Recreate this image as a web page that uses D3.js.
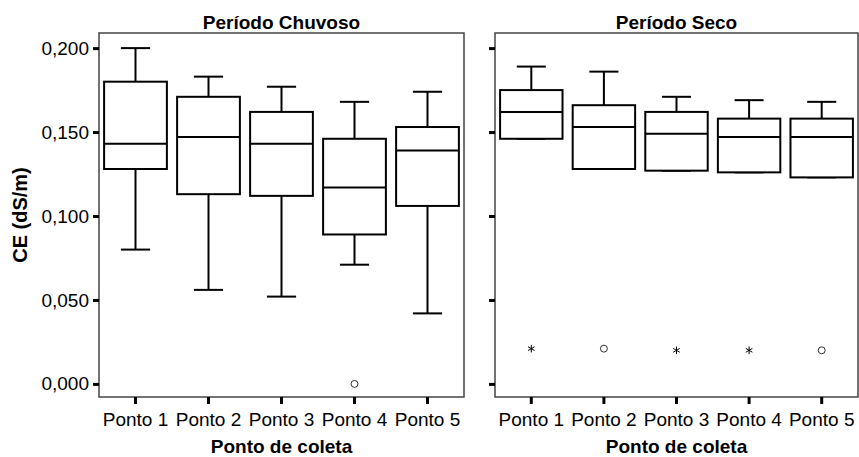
<!DOCTYPE html>
<html>
<head>
<meta charset="utf-8">
<script src="https://cdn.jsdelivr.net/npm/d3@7"></script>
<style>
  body { margin: 0; background: #fff; }
  text { font-family: "Liberation Sans", Arial, sans-serif; }
</style>
</head>
<body>
<svg id="chart" width="859" height="457"></svg>
<script>
// categories and box statistics
const pontos = ["Ponto 1", "Ponto 2", "Ponto 3", "Ponto 4", "Ponto 5"];
const yTicks = [0, 0.05, 0.10, 0.15, 0.20];

const chuvosoMin = [0.080, 0.056, 0.052, 0.071, 0.042];
const chuvosoQ1  = [0.128, 0.113, 0.112, 0.089, 0.106];
const chuvosoMed = [0.143, 0.147, 0.143, 0.117, 0.139];
const chuvosoQ3  = [0.180, 0.171, 0.162, 0.146, 0.153];
const chuvosoMax = [0.200, 0.183, 0.177, 0.168, 0.174];
const chuvosoOut = [["Ponto 4", 0.000, "o"]];

const secoMin = [0.146, 0.128, 0.127, 0.126, 0.123];
const secoQ1  = [0.146, 0.128, 0.127, 0.126, 0.123];
const secoMed = [0.162, 0.153, 0.149, 0.147, 0.147];
const secoQ3  = [0.175, 0.166, 0.162, 0.158, 0.158];
const secoMax = [0.189, 0.186, 0.171, 0.169, 0.168];
const secoOut = [["Ponto 1", 0.021, "*"], ["Ponto 2", 0.021, "o"],
                 ["Ponto 3", 0.020, "*"], ["Ponto 4", 0.020, "*"], ["Ponto 5", 0.020, "o"]];

const svg = d3.select("#chart");
const fs = 19;

const y = d3.scaleLinear().domain([-0.0078, 0.209]).range([397, 33]);
const fmt = d3.formatLocale({decimal: ",", thousands: ".", grouping: [3], currency: ["", ""]}).format(".3f");

function panel(x0, x1, title, mins, q1s, meds, q3s, maxs, outs, showLabels) {
  const x = d3.scaleBand().domain(pontos).range([x0, x1]).padding(0);
  const g = svg.append("g");
  const bw = x.bandwidth() * 0.86, cw = x.bandwidth() * 0.4;

  g.append("rect")
    .attr("x", x0).attr("y", y.range()[1])
    .attr("width", x1 - x0).attr("height", y.range()[0] - y.range()[1])
    .attr("fill", "none").attr("stroke", "#444").attr("stroke-width", 1.5);

  // y axis
  const ya = g.append("g").attr("transform", `translate(${x0},0)`)
    .call(d3.axisLeft(y).tickValues(yTicks).tickSize(6).tickPadding(4).tickFormat(showLabels ? fmt : ""));
  ya.select(".domain").remove();
  ya.selectAll(".tick line").attr("stroke", "#000").attr("stroke-width", 3);
  ya.selectAll("text").attr("font-size", fs).attr("fill", "#000")
    .style("font-family", "Liberation Sans, Arial, sans-serif");

  // x axis
  const xa = g.append("g").attr("transform", `translate(0,${y.range()[0]})`)
    .call(d3.axisBottom(x).tickSize(7).tickPadding(9));
  xa.select(".domain").remove();
  xa.selectAll(".tick line").attr("stroke", "#000").attr("stroke-width", 3);
  xa.selectAll("text").attr("font-size", fs).attr("fill", "#000")
    .style("font-family", "Liberation Sans, Arial, sans-serif");

  g.append("text").attr("x", (x0 + x1) / 2).attr("y", 28.5)
    .attr("text-anchor", "middle").attr("font-weight", "bold").attr("font-size", fs)
    .text(title);
  g.append("text").attr("x", (x0 + x1) / 2).attr("y", 453)
    .attr("text-anchor", "middle").attr("font-weight", "bold").attr("font-size", fs)
    .text("Ponto de coleta");

  const boxes = g.append("g").attr("stroke", "#000").attr("stroke-width", 2).attr("fill", "#fff");
  pontos.forEach((p, i) => {
    const cx = x(p) + x.bandwidth() / 2;
    boxes.append("line").attr("x1", cx).attr("x2", cx).attr("y1", y(maxs[i])).attr("y2", y(q3s[i]));
    boxes.append("line").attr("x1", cx).attr("x2", cx).attr("y1", y(mins[i])).attr("y2", y(q1s[i]));
    boxes.append("line").attr("x1", cx - cw / 2).attr("x2", cx + cw / 2).attr("y1", y(maxs[i])).attr("y2", y(maxs[i]));
    boxes.append("line").attr("x1", cx - cw / 2).attr("x2", cx + cw / 2).attr("y1", y(mins[i])).attr("y2", y(mins[i]));
    boxes.append("rect").attr("x", cx - bw / 2).attr("width", bw)
      .attr("y", y(q3s[i])).attr("height", y(q1s[i]) - y(q3s[i]));
    boxes.append("line").attr("x1", cx - bw / 2).attr("x2", cx + bw / 2).attr("y1", y(meds[i])).attr("y2", y(meds[i]));
  });

  outs.forEach(([p, v, t]) => {
    const cx = x(p) + x.bandwidth() / 2;
    g.append("path")
      .attr("transform", `translate(${cx},${y(v)})`)
      .attr("d", d3.symbol().type(t === "o" ? d3.symbolCircle : d3.symbolAsterisk).size(t === "o" ? 38 : 40)())
      .attr("fill", "none").attr("stroke", "#000").attr("stroke-width", t === "o" ? 0.8 : 1);
  });
}

panel(99, 464, "Período Chuvoso", chuvosoMin, chuvosoQ1, chuvosoMed, chuvosoQ3, chuvosoMax, chuvosoOut, true);
panel(495, 858, "Período Seco", secoMin, secoQ1, secoMed, secoQ3, secoMax, secoOut, false);

svg.append("text")
  .attr("transform", "translate(27,215) rotate(-90)")
  .attr("text-anchor", "middle").attr("font-weight", "bold").attr("font-size", 20)
  .text("CE (dS/m)");
</script>
</body>
</html>
